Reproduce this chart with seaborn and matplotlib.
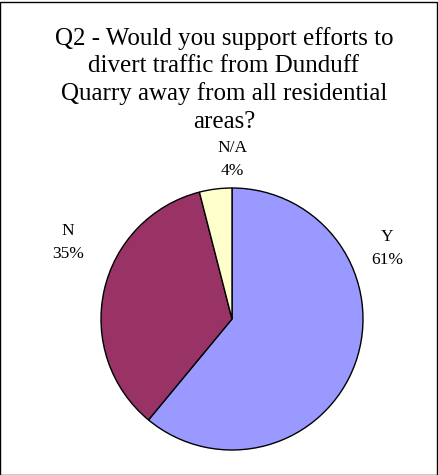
import numpy as np
import matplotlib
matplotlib.use("Agg")
import matplotlib.pyplot as plt
import seaborn as sns
from matplotlib.patches import Rectangle

categories = ["Y", "N", "N/A"]
values = [61, 35, 4]
colors = ["#9999FF", "#993366", "#FFFFCC"]
title_lines = ["Q2 - Would you support efforts to",
               "divert traffic from Dunduff",
               "Quarry away from all residential",
               "areas?"]

sns.set_theme(style="white")
plt.rcParams['font.family'] = ['Liberation Serif', 'DejaVu Serif']

W, H = 439, 475
fig = plt.figure(figsize=(W / 100, H / 100), dpi=100)
fig.patch.set_facecolor("white")

# pie geometry in pixels
cx, cy, r = 232, 319, 131
xl, xr = -1.6, 1.6
yb, yt = -1.15, 1.5
left = (cx + xl * r) / W
bottom = (H - cy + yb * r) / H
ax = fig.add_axes([left, bottom, (xr - xl) * r / W, (yt - yb) * r / H])

wedges, _ = ax.pie(values, colors=colors, startangle=90, counterclock=False,
                   wedgeprops=dict(edgecolor="black", linewidth=1.0))
ax.set_xlim(xl, xr)
ax.set_ylim(yb, yt)
ax.set_axis_off()

# label placement (angle in degrees, distance in radii)
label_pos = [(24.6, 1.30), (155.0, 1.38), (90.0, 1.22)]
for cat, v, (ang, d) in zip(categories, values, label_pos):
    a = np.deg2rad(ang)
    ax.text(d * np.cos(a), d * np.sin(a), f"{cat}\n{v}%", ha="center", va="center",
            fontsize=12.5, linespacing=1.6, color="black")

fig.text(224 / W, 1 - 27 / H, "\n".join(title_lines), ha="center", va="top",
         fontsize=18, linespacing=1.3, color="black")

fig.patches.append(Rectangle((0.5 / W, 0.5 / H), (W - 2) / W, (H - 2) / H,
                             transform=fig.transFigure, fill=False,
                             edgecolor="black", linewidth=1.0))

fig.savefig("out.png", dpi=100)
